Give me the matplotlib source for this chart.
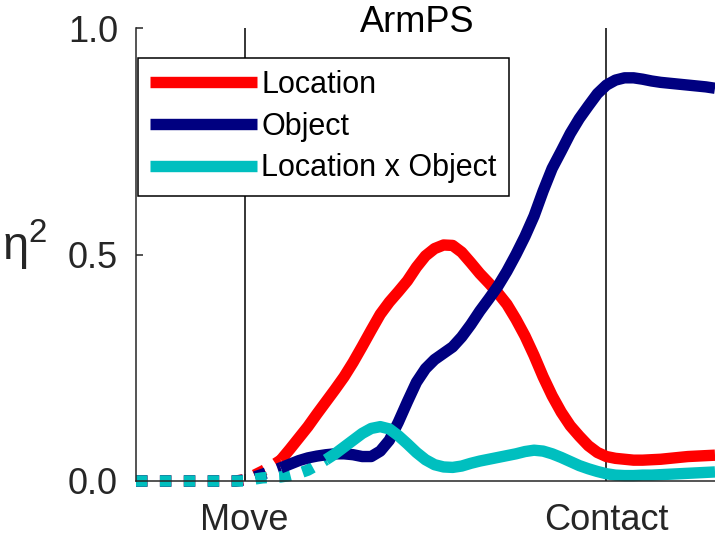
import numpy as np
import matplotlib
matplotlib.use("Agg")
import matplotlib.pyplot as plt

plt.rcParams["font.family"] = ["Liberation Sans", "DejaVu Sans"]
plt.rcParams["mathtext.fontset"] = "custom"
plt.rcParams["mathtext.rm"] = "Liberation Sans"
plt.rcParams["mathtext.it"] = "Liberation Sans"

# time, normalised: 0 = movement onset, 1 = contact
t = np.arange(-0.30, 1.30 + 1e-9, 0.025)

pre = [0.0] * 12  # before movement onset
location = pre + [
    0.003, 0.012, 0.022, 0.033, 0.046, 0.07, 0.095, 0.12, 0.148, 0.175,
    0.202, 0.23, 0.262, 0.297, 0.333, 0.368, 0.395, 0.418, 0.442, 0.472,
    0.497, 0.513, 0.521, 0.52, 0.505, 0.482, 0.458, 0.437, 0.415, 0.39,
    0.357, 0.32, 0.277, 0.23, 0.188, 0.152, 0.122, 0.099, 0.078, 0.063,
    0.054, 0.05, 0.048, 0.046, 0.046, 0.047, 0.048, 0.05, 0.052, 0.054,
    0.055, 0.056, 0.057]
obj = pre + [
    0.002, 0.008, 0.015, 0.022, 0.029, 0.037, 0.045, 0.051, 0.055, 0.058,
    0.06, 0.06, 0.058, 0.054, 0.054, 0.066, 0.09, 0.13, 0.175, 0.218,
    0.248, 0.268, 0.282, 0.296, 0.318, 0.345, 0.375, 0.402, 0.43, 0.463,
    0.5, 0.54, 0.585, 0.64, 0.69, 0.728, 0.767, 0.80, 0.828, 0.855,
    0.874, 0.885, 0.89, 0.89, 0.887, 0.883, 0.88, 0.878, 0.876, 0.874,
    0.872, 0.87, 0.867]
inter = pre + [
    0.0, 0.004, 0.007, 0.008, 0.009, 0.012, 0.017, 0.024, 0.035, 0.047,
    0.06, 0.075, 0.09, 0.105, 0.116, 0.12, 0.115, 0.10, 0.082, 0.063,
    0.047, 0.036, 0.031, 0.03, 0.033, 0.039, 0.044, 0.048, 0.052, 0.056,
    0.06, 0.065, 0.068, 0.066, 0.06, 0.052, 0.043, 0.034, 0.027, 0.021,
    0.016, 0.013, 0.012, 0.012, 0.013, 0.013, 0.014, 0.015, 0.016, 0.017,
    0.018, 0.019, 0.02]

# index where each effect becomes significant (solid line from here on)
sig_start = [16, 16, 21]

names = ["Location", "Object", "Location x Object"]
colors = ["#ff0000", "#000080", "#00bfbf"]
series = [location, obj, inter]

px = 1 / plt.rcParams["figure.dpi"]
fig = plt.figure(figsize=(715 * px, 548 * px))
ax = fig.add_axes([136 / 715, 67 / 548, 579 / 715, 453 / 548])

lw = 8.2
for vals, c, s in zip(series, colors, sig_start):
    vals = np.array(vals)
    ax.plot(t[:s + 1], vals[:s + 1], color=c, lw=lw, dashes=(1, 1.1),
            dash_capstyle="butt", clip_on=False)
for vals, c, s, name in zip(series, colors, sig_start, names):
    vals = np.array(vals)
    ax.plot(t[s:], vals[s:], color=c, lw=lw, solid_joinstyle="round",
            solid_capstyle="butt", label=name, clip_on=False)

ax.axvline(0, color="black", lw=1.1, zorder=1)
ax.axvline(1, color="black", lw=1.1, zorder=1)

ax.set_xlim(-0.30, 1.30)
ax.set_ylim(0, 1)
ax.set_xticks([0, 1])
ax.set_xticklabels(["Move", "Contact"])
ax.set_yticks([0, 0.5, 1.0])
ax.set_yticklabels(["0.0", "0.5", "1.0"])
ax.tick_params(axis="both", direction="in", length=5, width=1.1,
               labelsize=26, colors="#262626")
ax.tick_params(axis="x", pad=16)
ax.tick_params(axis="y", pad=13)
for side in ["top", "right"]:
    ax.spines[side].set_visible(False)
for side in ["left", "bottom"]:
    ax.spines[side].set_linewidth(1.1)
    ax.spines[side].set_color("#262626")

ax.text(0.485, 0.991, "ArmPS", transform=ax.transAxes, ha="center",
        va="baseline", fontsize=26, color="black")

ax.set_ylabel(r"$\mathregular{\eta^2}$", rotation=0, fontsize=34,
              color="#262626", va="center", ha="center")
ax.yaxis.set_label_coords(-0.192, 0.52)

leg = ax.legend(loc="upper left", bbox_to_anchor=(0.003, 0.934),
                borderaxespad=0, fontsize=22, handlelength=3.5,
                handletextpad=0.15, borderpad=0.4, labelspacing=0.38,
                fancybox=False, framealpha=1, edgecolor="black")
leg.get_frame().set_linewidth(1.1)
leg.set_zorder(5)

fig.savefig("out.png", dpi=100)
